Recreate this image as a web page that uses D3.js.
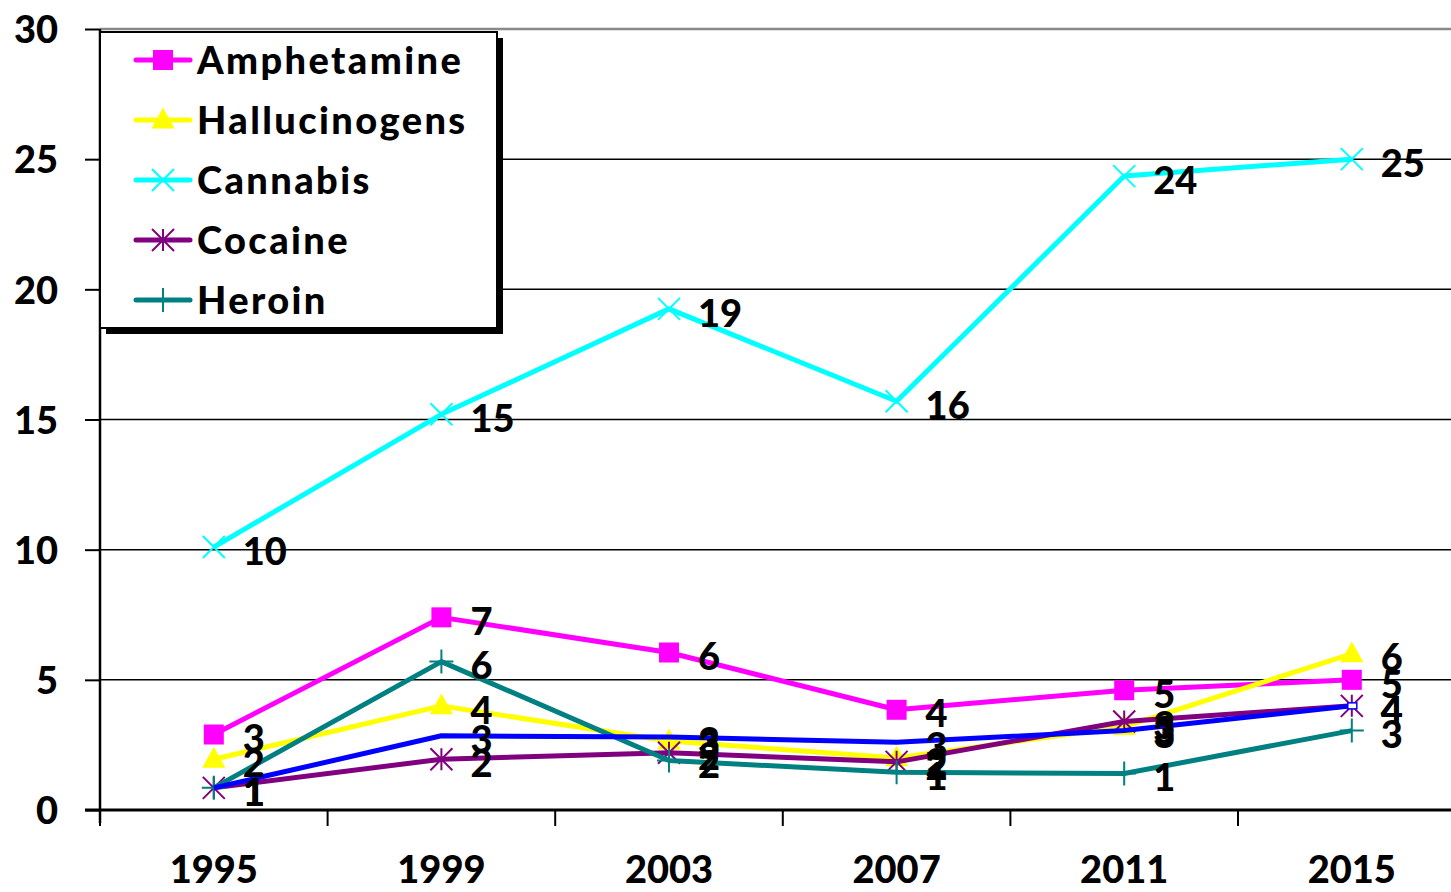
<!DOCTYPE html>
<html>
<head>
<meta charset="utf-8">
<script src="https://cdn.jsdelivr.net/npm/d3@7"></script>
<style>
html,body{margin:0;padding:0;background:#fff;}
svg{display:block;}
text{font-family:Lato,"Open Sans",sans-serif;font-weight:900;fill:#000;}
</style>
</head>
<body>
<svg id="chart" width="1451" height="892"></svg>
<script>
const years = ["1995","1999","2003","2007","2011","2015"];
const amphetamine   = [2.9, 7.4, 6.05, 3.85, 4.6, 5.0];
const hallucinogens = [1.95, 4.0, 2.65, 2.0, 3.2, 6.0];
const cannabis      = [10.1, 15.2, 19.25, 15.7, 24.35, 25.0];
const cocaine       = [0.85, 1.95, 2.2, 1.85, 3.4, 4.0];
const heroin        = [0.85, 5.7, 1.9, 1.45, 1.4, 3.05];
const other         = [0.85, 2.85, 2.8, 2.6, 3.05, 4.0];
const amphetamineLabels   = ["3","7","6","4","5","5"];
const hallucinogensLabels = ["2","4","3","2","3","6"];
const cannabisLabels      = ["10","15","19","16","24","25"];
const cocaineLabels       = ["1","2","2","2","3","4"];
const heroinLabels        = ["1","6","2","1","1","3"];
const otherLabels         = ["1","3","3","3","3","4"];
const yTicks = [0,5,10,15,20,25,30];

const series = [
  {name:"Amphetamine",   values:amphetamine,   labels:amphetamineLabels,   color:"#FF00FF", marker:"square",   legend:true},
  {name:"Hallucinogens", values:hallucinogens, labels:hallucinogensLabels, color:"#FFFF00", marker:"triangle", legend:true},
  {name:"Cannabis",      values:cannabis,      labels:cannabisLabels,      color:"#00FFFF", marker:"x",        legend:true},
  {name:"Cocaine",       values:cocaine,       labels:cocaineLabels,       color:"#800080", marker:"star",     legend:true},
  {name:"Heroin",        values:heroin,        labels:heroinLabels,        color:"#008080", marker:"plus",     legend:true},
  {name:"Other",         values:other,         labels:otherLabels,         color:"#0000FF", marker:"none",     legend:false}
];

const svg = d3.select("#chart");
const mLeft = 100, mTop = 29, mBottom = 810;
const x = d3.scaleBand().domain(years).range([mLeft, mLeft + 6*227.6]).padding(0);
const y = d3.scaleLinear().domain([0,30]).range([mBottom, mTop]);
const cx = d => x(d) + x.bandwidth()/2;

// gridlines
svg.append("g").selectAll("line").data(yTicks.filter(t => t>0)).join("line")
  .attr("x1", mLeft).attr("x2", 1451)
  .attr("y1", d => y(d)).attr("y2", d => y(d))
  .attr("stroke", d => d===30 ? "#888" : "#000").attr("stroke-width", d => d===30 ? 2.5 : 1.5);

// y axis
const yAxis = svg.append("g").attr("transform", `translate(${mLeft},0)`)
  .call(d3.axisLeft(y).tickValues(yTicks).tickSize(15).tickPadding(27));
yAxis.select(".domain").attr("stroke","#000").attr("stroke-width",2.5).attr("d", `M0,${mTop}V${mBottom+13}`);
yAxis.selectAll(".tick line").attr("stroke","#000").attr("stroke-width",2);
yAxis.selectAll(".tick text").style("font-size","38px").attr("dy","0.36em");

// x axis
const xAxis = svg.append("g").attr("transform", `translate(0,${mBottom})`)
  .call(d3.axisBottom(x).tickSize(0).tickPadding(46));
xAxis.select(".domain").attr("stroke","#000").attr("stroke-width",3).attr("d", `M${mLeft-15},0H1451`);
xAxis.selectAll(".tick text").style("font-size","38px");
svg.append("g").selectAll("line").data(years).join("line")
  .attr("x1", d => x(d)).attr("x2", d => x(d)).attr("y1", mBottom).attr("y2", mBottom+16)
  .attr("stroke","#000").attr("stroke-width",2);

// markers
function drawMarker(g, type, color, s) {
  if (type === "square") {
    g.append("rect").attr("x",-s/2).attr("y",-s/2).attr("width",s).attr("height",s).attr("fill",color);
  } else if (type === "triangle") {
    g.append("path").attr("d", `M0,${-s*0.62}L${s*0.58},${s*0.42}L${-s*0.58},${s*0.42}Z`).attr("fill",color);
  } else if (type === "x") {
    const h = s*0.55;
    g.append("path").attr("d", `M${-h},${-h}L${h},${h}M${-h},${h}L${h},${-h}`).attr("stroke",color).attr("stroke-width",2);
  } else if (type === "star") {
    const h = s*0.55;
    g.append("path").attr("d", `M${-h},${-h}L${h},${h}M${-h},${h}L${h},${-h}M0,${-h}V${h}`).attr("stroke",color).attr("stroke-width",2);
  } else if (type === "plus") {
    const h = s*0.6;
    g.append("path").attr("d", `M${-h},0H${h}M0,${-h}V${h}`).attr("stroke",color).attr("stroke-width",2);
  }
}

const line = d3.line().x((d,i) => cx(years[i])).y(d => y(d));
series.forEach(s => {
  const g = svg.append("g");
  g.append("path").datum(s.values).attr("d", line)
    .attr("fill","none").attr("stroke", s.color).attr("stroke-width",5).attr("stroke-linejoin","round");
  s.values.forEach((v,i) => {
    const mg = g.append("g").attr("transform", `translate(${cx(years[i])},${y(v)})`);
    drawMarker(mg, s.marker, s.color, 20);
  });
});
// small marker for the unlabeled blue series at the end
svg.append("rect").attr("x", cx("2015")-4).attr("y", y(other[5])-3).attr("width",9).attr("height",6)
  .attr("fill","#fff").attr("stroke","#0000FF").attr("stroke-width",1.5);

// data labels
series.forEach(s => {
  svg.append("g").selectAll("text").data(s.values).join("text")
    .attr("x", (d,i) => cx(years[i]) + 29)
    .attr("y", (d) => y(d) + 4)
    .attr("dy","0.36em")
    .style("font-size","38px")
    .text((d,i) => s.labels[i]);
});

// legend
const lg = svg.append("g");
lg.append("rect").attr("x",106).attr("y",38).attr("width",397).attr("height",296).attr("fill","#000");
lg.append("rect").attr("x",100).attr("y",32).attr("width",397).attr("height",296)
  .attr("fill","#fff").attr("stroke","#000").attr("stroke-width",2);
series.filter(s => s.legend).forEach((s,i) => {
  const ry = 60 + i*60;
  lg.append("line").attr("x1",136).attr("x2",190).attr("y1",ry).attr("y2",ry)
    .attr("stroke", s.color).attr("stroke-width",5).attr("stroke-linecap","round");
  const mg = lg.append("g").attr("transform", `translate(163,${ry})`);
  drawMarker(mg, s.marker, s.color, 20);
  lg.append("text").attr("x",197).attr("y",ry).attr("dy","0.36em")
    .style("font-size","38px").style("letter-spacing","2.4px").text(s.name);
});
</script>
</body>
</html>
